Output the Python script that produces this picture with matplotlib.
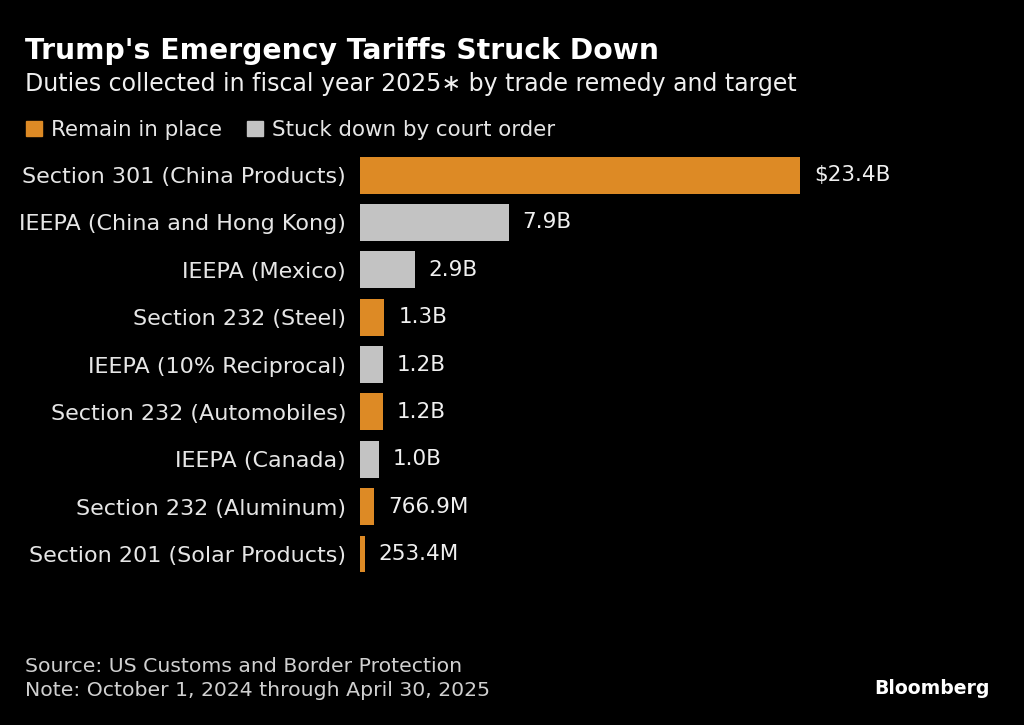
import matplotlib
matplotlib.use("Agg")
import matplotlib.pyplot as plt
from matplotlib.patches import Patch

# data (billions of dollars)
categories = [
    "Section 301 (China Products)",
    "IEEPA (China and Hong Kong)",
    "IEEPA (Mexico)",
    "Section 232 (Steel)",
    "IEEPA (10% Reciprocal)",
    "Section 232 (Automobiles)",
    "IEEPA (Canada)",
    "Section 232 (Aluminum)",
    "Section 201 (Solar Products)",
]
values = [23.4, 7.9, 2.9, 1.3, 1.2, 1.2, 1.0, 0.7669, 0.2534]
value_labels = ["$23.4B", "7.9B", "2.9B", "1.3B", "1.2B", "1.2B", "1.0B", "766.9M", "253.4M"]
status = ["remain", "struck", "struck", "remain", "struck", "remain", "struck", "remain", "remain"]
legend_labels = ["Remain in place", "Stuck down by court order"]

ORANGE = "#DD8A25"
GRAY = "#C3C3C3"
BG = "black"
colors = {"remain": ORANGE, "struck": GRAY}

plt.rcParams["font.family"] = ["DejaVu Sans"]

fig = plt.figure(figsize=(10.24, 7.25), dpi=100, facecolor=BG)
ax = fig.add_axes([360 / 1024, 0.2032, 440 / 1024, 0.588])
ax.set_facecolor(BG)

ypos = list(range(len(categories)))
ax.barh(ypos, values, height=0.78, color=[colors[s] for s in status])
ax.set_xlim(0, max(values))
ax.set_ylim(len(categories) - 0.5, -0.5)

ax.set_yticks(ypos)
ax.set_yticklabels(categories, fontsize=16, color="#E6E6E6")
ax.tick_params(axis="y", length=0, pad=10)
ax.set_xticks([])
for sp in ax.spines.values():
    sp.set_visible(False)

for y, v, lab in zip(ypos, values, value_labels):
    ax.annotate(lab, (v, y), xytext=(10, 0), textcoords="offset points",
                va="center", ha="left", fontsize=15.5, color="#F0F0F0",
                annotation_clip=False)

fig.text(25 / 1024, 1 - 51 / 725, "Trump's Emergency Tariffs Struck Down",
         fontsize=20.3, fontweight="bold", color="white", va="center")
fig.text(25 / 1024, 1 - 84 / 725,
         "Duties collected in fiscal year 2025\u2217 by trade remedy and target",
         fontsize=17, color="#F0F0F0", va="center")

handles = [Patch(color=ORANGE), Patch(color=GRAY)]
fig.legend(handles, legend_labels, loc="center left",
           bbox_to_anchor=(7 / 1024, 1 - 130 / 725), ncol=2, frameon=False,
           fontsize=15.4, labelcolor="#E6E6E6", handlelength=0.74, handleheight=0.74,
           handletextpad=0.4, columnspacing=1.2)

fig.text(25 / 1024, 1 - 667 / 725, "Source: US Customs and Border Protection",
         fontsize=14.7, color="#D0D0D0", va="center")
fig.text(25 / 1024, 1 - 691 / 725, "Note: October 1, 2024 through April 30, 2025",
         fontsize=14.7, color="#D0D0D0", va="center")
fig.text(990 / 1024, 1 - 688 / 725, "Bloomberg", fontsize=13.6, fontweight="bold",
         color="white", va="center", ha="right")

fig.savefig("out.png", dpi=100, facecolor=BG)
